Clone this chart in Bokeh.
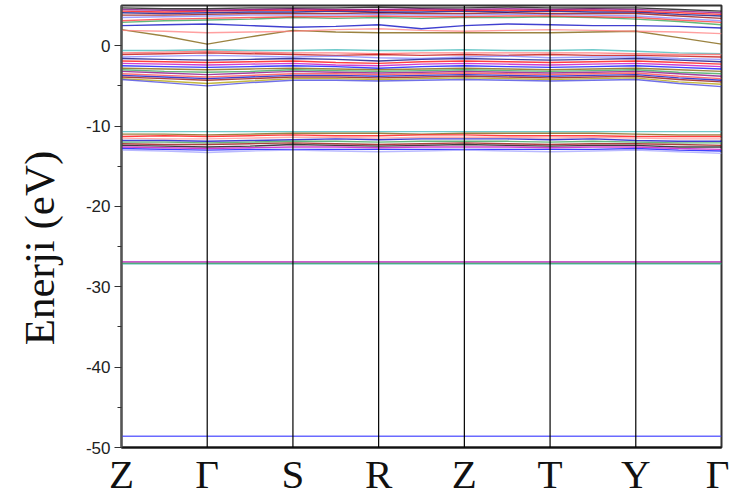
from bokeh.plotting import figure
from bokeh.models import FixedTicker, Span, Range1d
from bokeh.embed import file_html
from bokeh.resources import INLINE

# High-symmetry path and the sampling points along it (segment ends + midpoints)
k_labels = ["Z", "Γ", "S", "R", "Z", "T", "Y", "Γ"]
k_ticks = [0, 1, 2, 3, 4, 5, 6, 7]
k_samples = [0, 0.5, 1, 1.5, 2, 2.5, 3, 3.5, 4, 4.5, 5, 5.5, 6, 6.5, 7]

energy_ticks = [-50, -40, -30, -20, -10, 0]
energy_minor_ticks = [-45, -35, -25, -15, -5]

# Conduction bands (eV)
conduction_bands = [
    [2.0, 1.2, 0.2, 1.1, 1.9, 1.7, 1.6, 1.6, 1.6, 1.6, 1.6, 1.7, 1.8, 1.0, 0.2],
    [1.9, 1.8, 1.6, 1.7, 1.8, 2.0, 2.1, 1.9, 1.8, 1.9, 2.0, 1.9, 1.8, 1.7, 1.5],
    [2.5, 2.6, 2.7, 2.5, 2.3, 2.4, 2.6, 2.1, 2.5, 2.7, 2.6, 2.5, 2.5, 2.4, 2.2],
    [2.9, 3.1, 3.2, 3.3, 3.5, 3.4, 3.5, 3.4, 3.5, 3.5, 3.6, 3.5, 3.3, 3.0, 2.6],
    [3.1, 3.3, 3.4, 3.5, 3.6, 3.6, 3.7, 3.6, 3.6, 3.7, 3.7, 3.6, 3.5, 3.2, 2.9],
    [3.5, 3.6, 3.7, 3.8, 3.8, 3.8, 3.9, 3.8, 3.8, 3.9, 3.9, 3.8, 3.7, 3.4, 3.1],
    [3.8, 3.8, 3.9, 4.0, 4.0, 4.0, 4.1, 4.0, 4.0, 4.1, 4.0, 4.0, 4.0, 3.7, 3.4],
    [4.1, 4.0, 4.1, 4.2, 4.2, 4.3, 4.2, 4.2, 4.3, 4.2, 4.3, 4.2, 4.2, 3.9, 3.7],
    [4.3, 4.2, 4.3, 4.4, 4.4, 4.4, 4.4, 4.4, 4.4, 4.4, 4.4, 4.4, 4.3, 4.1, 3.9],
    [4.5, 4.4, 4.4, 4.5, 4.6, 4.5, 4.5, 4.6, 4.5, 4.6, 4.5, 4.6, 4.5, 4.3, 4.1],
    [4.7, 4.6, 4.6, 4.7, 4.7, 4.7, 4.8, 4.7, 4.7, 4.8, 4.7, 4.7, 4.7, 4.5, 4.3],
]
conduction_colors = ["#7A5A00", "#FF8080", "#0000C0", "#30A050", "#FF3030", "#8080FF",
                     "#900000", "#000080", "#FF0000", "#800080", "#000000"]

# Upper valence bands (eV)
valence_bands = [
    [-0.6, -0.6, -0.5, -0.6, -0.6, -0.5, -0.6, -0.6, -0.5, -0.6, -0.6, -0.5, -0.7, -0.9, -1.0],
    [-0.9, -0.8, -0.7, -0.8, -0.9, -0.9, -1.0, -0.9, -0.9, -0.9, -0.9, -0.9, -1.0, -1.1, -1.1],
    [-1.1, -1.0, -0.9, -1.0, -1.1, -1.2, -1.1, -1.2, -1.1, -1.2, -1.1, -1.2, -1.2, -1.3, -1.4],
    [-1.4, -1.3, -1.2, -1.3, -1.4, -1.3, -1.5, -1.6, -1.4, -1.3, -1.5, -1.4, -1.4, -1.6, -1.7],
    [-1.6, -1.7, -1.8, -1.7, -1.6, -1.7, -1.9, -1.7, -1.6, -1.7, -1.8, -1.7, -1.6, -1.8, -2.0],
    [-1.9, -2.0, -2.1, -2.0, -1.9, -2.1, -2.2, -2.0, -1.9, -2.0, -2.1, -2.0, -1.9, -2.1, -2.3],
    [-2.2, -2.3, -2.4, -2.3, -2.2, -2.4, -2.5, -2.3, -2.2, -2.3, -2.4, -2.3, -2.2, -2.4, -2.6],
    [-2.5, -2.6, -2.7, -2.6, -2.5, -2.6, -2.8, -2.6, -2.5, -2.6, -2.7, -2.6, -2.5, -2.7, -2.9],
    [-2.8, -2.9, -3.0, -2.9, -2.8, -2.9, -3.0, -2.9, -2.8, -2.9, -3.0, -2.9, -2.8, -3.0, -3.2],
    [-3.0, -3.2, -3.3, -3.2, -3.0, -3.1, -3.2, -3.1, -3.0, -3.1, -3.2, -3.1, -3.0, -3.3, -3.5],
    [-3.2, -3.4, -3.6, -3.4, -3.2, -3.3, -3.4, -3.3, -3.2, -3.3, -3.4, -3.3, -3.2, -3.5, -3.8],
    [-3.5, -3.7, -3.9, -3.7, -3.5, -3.5, -3.6, -3.5, -3.4, -3.5, -3.6, -3.5, -3.4, -3.8, -4.1],
    [-3.7, -3.9, -4.1, -3.9, -3.7, -3.7, -3.8, -3.7, -3.6, -3.7, -3.8, -3.7, -3.6, -4.0, -4.3],
    [-3.9, -4.1, -4.3, -4.1, -3.9, -3.9, -4.0, -3.9, -3.8, -3.9, -4.0, -3.9, -3.8, -4.2, -4.5],
    [-4.1, -4.4, -4.7, -4.4, -4.1, -4.1, -4.2, -4.1, -4.0, -4.1, -4.2, -4.1, -4.0, -4.5, -4.8],
    [-4.2, -4.6, -5.0, -4.6, -4.3, -4.3, -4.4, -4.3, -4.2, -4.3, -4.4, -4.3, -4.2, -4.7, -5.1],
]
valence_colors = ["#40B8B8", "#FF6060", "#C00000", "#8080FF", "#000080", "#FF0000",
                  "#C000C0", "#0000FF", "#7A5A00", "#30A050", "#800080", "#FF4040",
                  "#0000C0", "#900000", "#B0A000", "#4040E0"]

# Semi-core bands (eV)
semicore_bands = [
    [-10.7, -10.7, -10.7, -10.7, -10.7, -10.7, -10.7, -10.7, -10.7, -10.7, -10.7, -10.7, -10.7, -10.7, -10.7],
    [-11.0, -11.0, -11.1, -11.0, -10.9, -10.9, -10.9, -11.0, -10.9, -10.9, -10.9, -10.9, -11.0, -11.1, -11.1],
    [-11.3, -11.2, -11.3, -11.2, -11.1, -11.2, -11.2, -11.1, -11.1, -11.2, -11.2, -11.2, -11.3, -11.3, -11.3],
    [-11.5, -11.6, -11.6, -11.5, -11.4, -11.4, -11.5, -11.4, -11.4, -11.4, -11.5, -11.4, -11.5, -11.6, -11.6],
    [-11.8, -11.8, -11.9, -11.8, -11.7, -11.6, -11.7, -11.6, -11.6, -11.6, -11.7, -11.6, -11.8, -11.9, -11.9],
    [-12.0, -12.0, -12.1, -12.0, -11.9, -11.9, -12.0, -11.9, -11.9, -11.9, -12.0, -11.9, -12.0, -12.1, -12.1],
    [-12.2, -12.3, -12.3, -12.2, -12.1, -12.2, -12.3, -12.2, -12.1, -12.2, -12.3, -12.2, -12.2, -12.3, -12.4],
    [-12.4, -12.5, -12.6, -12.5, -12.3, -12.4, -12.5, -12.4, -12.3, -12.4, -12.5, -12.4, -12.4, -12.6, -12.6],
    [-12.6, -12.7, -12.8, -12.7, -12.6, -12.6, -12.7, -12.6, -12.6, -12.6, -12.7, -12.6, -12.6, -12.8, -12.9],
    [-12.8, -12.9, -13.0, -12.9, -12.9, -12.9, -12.9, -12.9, -12.9, -12.9, -12.9, -12.9, -12.8, -13.0, -13.1],
    [-13.0, -13.1, -13.3, -13.1, -13.0, -13.1, -13.2, -13.1, -13.0, -13.1, -13.2, -13.1, -13.0, -13.2, -13.4],
]
semicore_colors = ["#40B8B8", "#7A5A00", "#FF0000", "#FF9090", "#0000C0", "#30A050",
                   "#900000", "#000000", "#C000C0", "#0000FF", "#A0A0FF"]

# Deep core levels (eV), drawn bottom layer first
core_bands = [
    [-27.15] * 15,
    [-27.05] * 15,
    [-26.9] * 15,
    [-48.6] * 15,
]
core_colors = ["#40B0B0", "#30A050", "#B000B0", "#5050FF"]

p = figure(width=729, height=499, output_backend="svg", toolbar_location=None,
           x_range=Range1d(0, 7), y_range=Range1d(-50, 5),
           min_border_left=121, min_border_right=8, min_border_top=5, min_border_bottom=50,
           background_fill_color="white", border_fill_color="white")

p.xgrid.visible = False
p.ygrid.visible = False
p.outline_line_color = "#333333"
p.outline_line_width = 2

for group, colors in ((conduction_bands, conduction_colors),
                      (valence_bands, valence_colors),
                      (semicore_bands, semicore_colors)):
    for band, c in zip(group, colors):
        p.line(k_samples, band, line_color=c, line_width=1.4, line_alpha=0.75)
for band, c in zip(core_bands, core_colors):
    p.line(k_samples, band, line_color=c, line_width=1.3, line_alpha=0.85)

# Vertical markers at the high-symmetry points
for k in k_ticks[1:-1]:
    p.add_layout(Span(location=k, dimension="height", line_color="black", line_width=1.2))

# Energy axis (the trailing no-break spaces push the title a little toward the bottom)
p.yaxis.ticker = FixedTicker(ticks=energy_ticks, minor_ticks=energy_minor_ticks)
p.yaxis.major_label_overrides = {t: str(t) for t in energy_ticks}
p.yaxis.axis_label = "Enerji (eV)" + "\u00a0" * 4
p.yaxis.axis_label_text_font = "Liberation Serif"
p.yaxis.axis_label_text_font_size = "43px"
p.yaxis.axis_label_text_font_style = "normal"
p.yaxis.axis_label_text_color = "#111111"
p.yaxis.axis_label_standoff = 20
p.yaxis.major_label_text_font = "Liberation Sans"
p.yaxis.major_label_text_font_size = "17px"
p.yaxis.major_label_text_color = "#222222"
p.yaxis.major_label_standoff = 4
p.yaxis.major_tick_out = 7
p.yaxis.major_tick_in = 0
p.yaxis.minor_tick_out = 4
p.yaxis.minor_tick_in = 0
p.yaxis.axis_line_width = 2
p.yaxis.axis_line_color = "#555555"
p.yaxis.major_tick_line_color = "#333333"
p.yaxis.minor_tick_line_color = "#333333"

# k-path axis
p.xaxis.ticker = FixedTicker(ticks=k_ticks)
p.xaxis.major_label_overrides = {k: lab for k, lab in zip(k_ticks, k_labels)}
p.xaxis.major_label_text_font = "Liberation Serif"
p.xaxis.major_label_text_font_size = "41px"
p.xaxis.major_label_text_color = "#111111"
p.xaxis.major_label_standoff = 3
p.xaxis.major_tick_out = 0
p.xaxis.major_tick_in = 0
p.xaxis.minor_tick_line_color = None
p.xaxis.axis_line_width = 2
p.xaxis.axis_line_color = "#111111"

open("out.html", "w").write(file_html(p, INLINE))
